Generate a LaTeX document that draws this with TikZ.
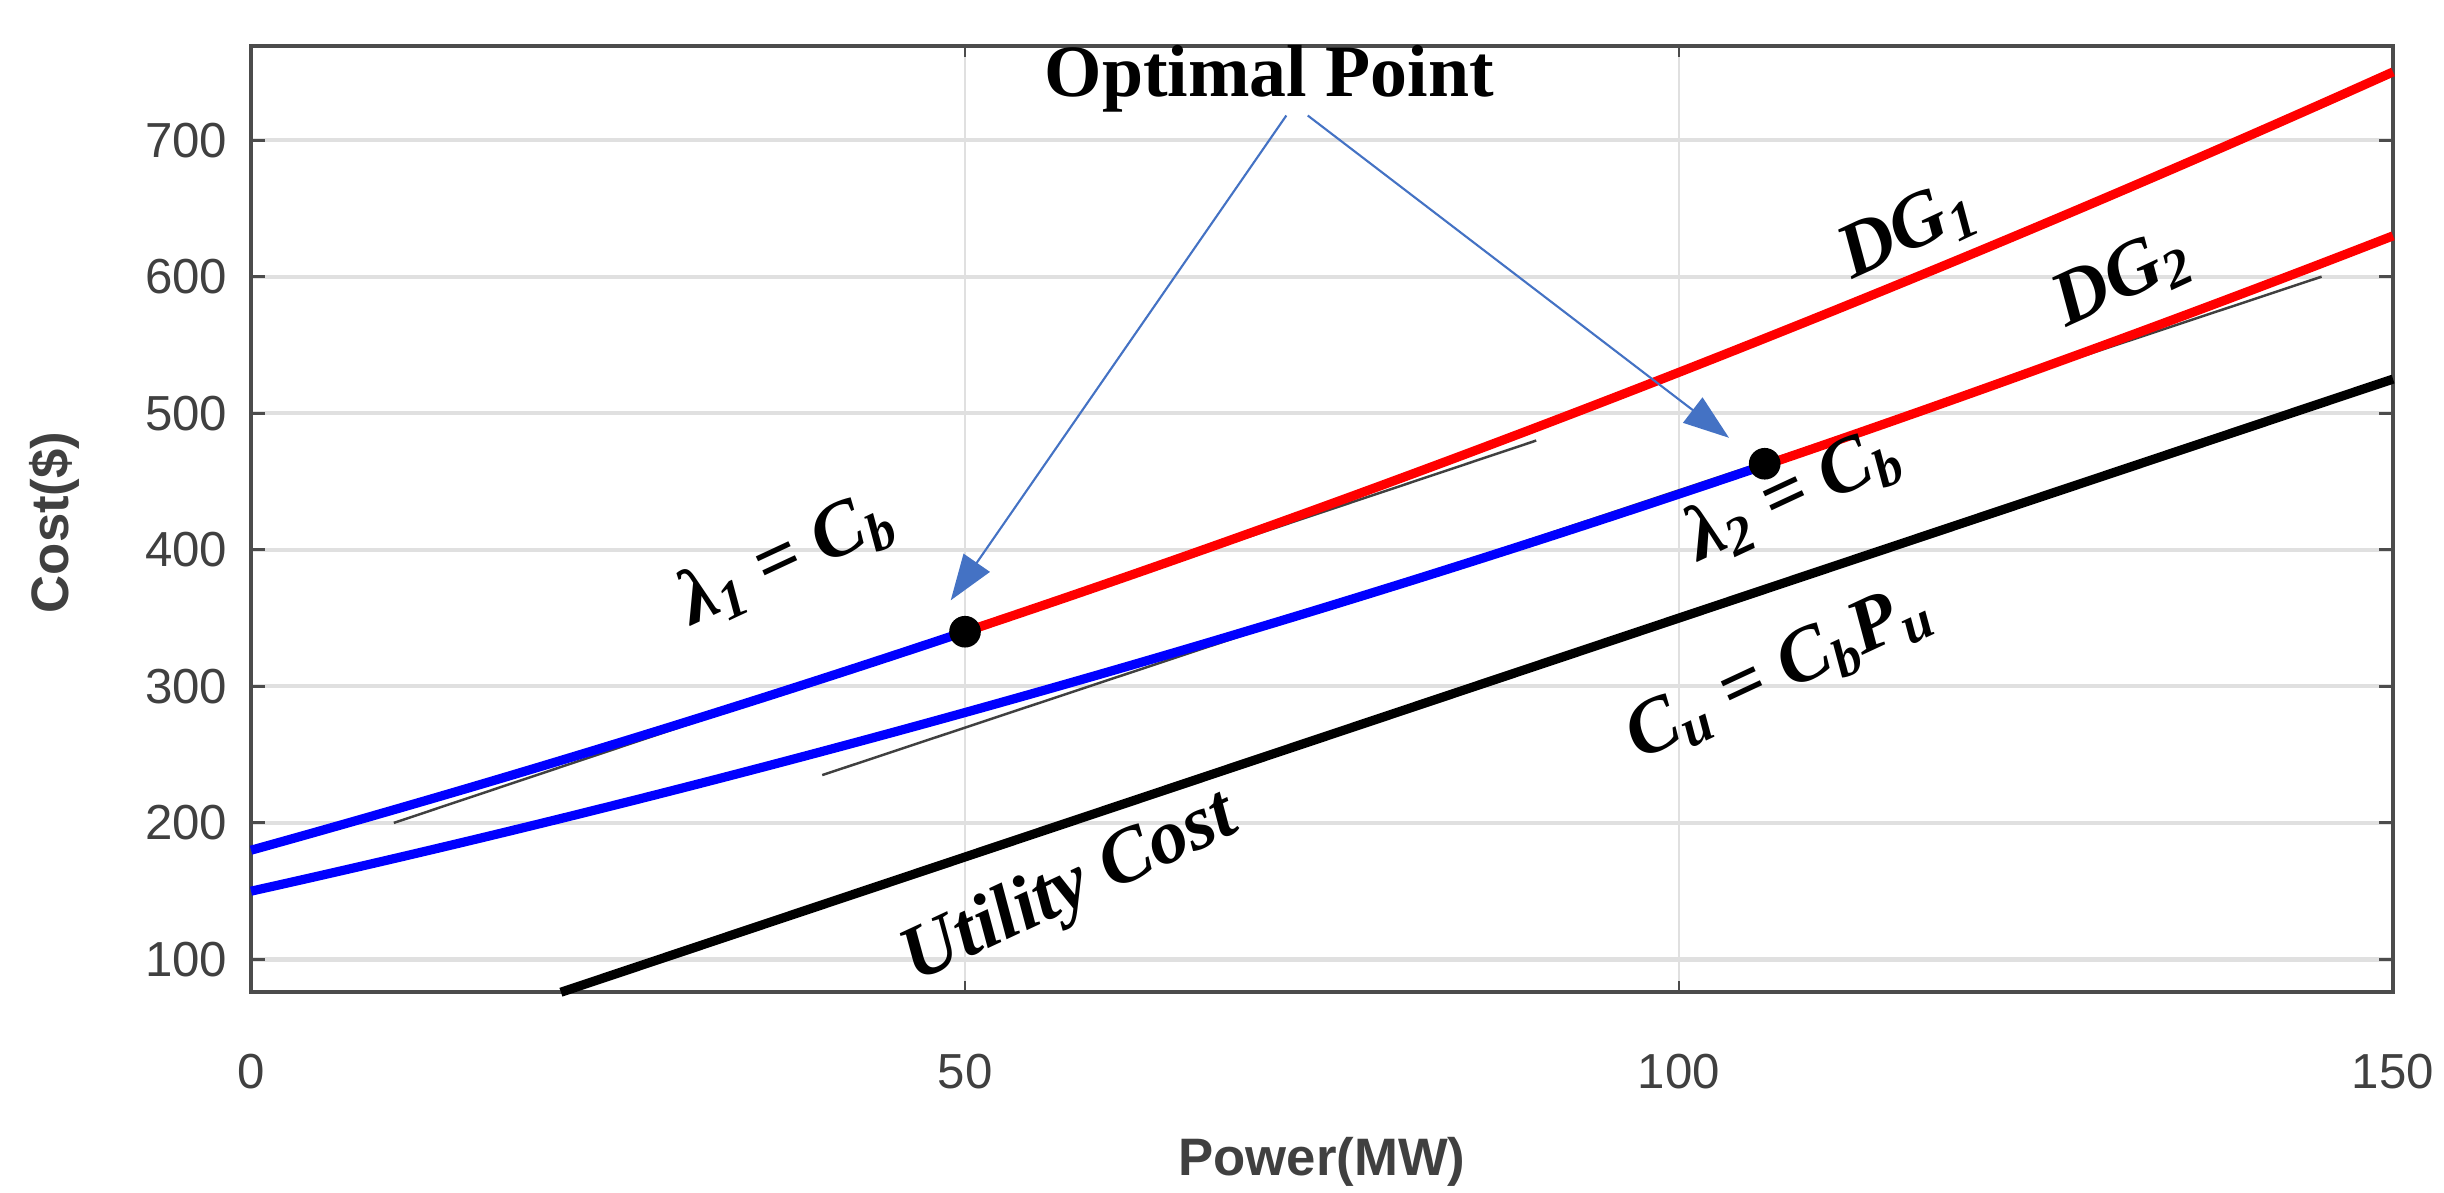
\documentclass[tikz,border=0pt]{standalone}
\usepackage{fontspec}
\setmainfont{Liberation Serif}
\newfontfamily\arialf{Liberation Sans}
\usetikzlibrary{arrows.meta}
\definecolor{arrblue}{RGB}{68,114,196}
\begin{document}
\begin{tikzpicture}[x=0.1428cm,y=0.01365cm,
  tick/.style={font=\arialf\fontsize{14}{14}\selectfont,text=black!75},
  grd/.style={black!12,line width=1.2pt},
  curve/.style={line width=2.6pt},
  tang/.style={black!75,line width=0.7pt},
  lab/.style={font=\fontsize{22}{22}\selectfont\bfseries\itshape},
  optarrow/.style={-{Triangle[length=13pt,width=9pt]},arrblue,line width=0.6pt}]
\useasboundingbox (-17.58,-70.7) rectangle (153.57,802.6);
\fill[white] (-17.58,-70.7) rectangle (153.57,802.6);
% grid
\foreach \y in {100,200,...,700}{\draw[grd] (0,\y) -- (150,\y);
  \node[tick,anchor=east] at (-0.8,\y) {\y};}
\foreach \x in {50,100}{\draw[grd,line width=0.8pt] (\x,76) -- (\x,769);}
\foreach \x in {0,50,100,150}{\node[tick,anchor=north] at (\x,40) {\x};}
\foreach \y in {100,200,...,700}{\draw[black!70,line width=0.8pt] (0,\y) -- (1,\y) (150,\y) -- (149,\y);}
\foreach \x in {50,100}{\draw[black!70,line width=0.8pt] (\x,76) -- (\x,84) (\x,769) -- (\x,761);}
\draw[black!70,line width=1pt] (0,76) rectangle (150,769);
\node[font=\arialf\bfseries\fontsize{15}{15}\selectfont,text=black!75] (xl) at (75,-48) {Power(MW)};
\node[font=\arialf\bfseries\fontsize{15}{15}\selectfont,text=black!75,rotate=90] (yl) at (-13.8,420) {Cost(\$)};
% tangents
\draw[tang] (10,200) -- (90,480);
\draw[tang] (40,235) -- (145,600);
% curves
\draw[curve,black] (21.7,76) -- (150,525);
\draw[curve,blue] plot[domain=0:50,samples=40] (\x,{180+2.9*\x+0.006*\x*\x});
\draw[curve,red] plot[domain=50:150,samples=60] (\x,{180+2.9*\x+0.006*\x*\x});
\draw[curve,blue] plot[domain=0:106,samples=60] (\x,{150+2.325*\x+0.00583*\x*\x});
\draw[curve,red] plot[domain=106:150,samples=40] (\x,{150+2.325*\x+0.00583*\x*\x});
\node[circle,fill=black,inner sep=0pt,minimum size=9pt] (p1) at (50,340) {};
\node[circle,fill=black,inner sep=0pt,minimum size=9pt] (p2) at (106,463) {};
% labels
\node[font=\fontsize{21}{21}\selectfont\bfseries] (op) at (71.3,745) {Optimal Point};
\coordinate (a1) at (72.5,718);
\coordinate (a2) at (74,718);
\coordinate (t1) at (49,363);
\coordinate (t2) at (103.5,482);
\draw[optarrow] (a1) -- (t1);
\draw[optarrow] (a2) -- (t2);
\node[lab,rotate=25] (l1) at (37.5,393) {λ\textsubscript{1} = C\textsubscript{b}};
\node[lab,rotate=25] (l2) at (108,440) {λ\textsubscript{2} = C\textsubscript{b}};
\node[lab,rotate=25] (d1) at (116,633) {DG\textsubscript{1}};
\node[lab,rotate=25] (d2) at (131,598) {DG\textsubscript{2}};
\node[lab,rotate=25] (cu) at (107,309) {C\textsubscript{u} = C\textsubscript{b}P\textsubscript{u}};
\node[lab,rotate=25] (uc) at (57.4,151) {Utility Cost};
\end{tikzpicture}
\end{document}
